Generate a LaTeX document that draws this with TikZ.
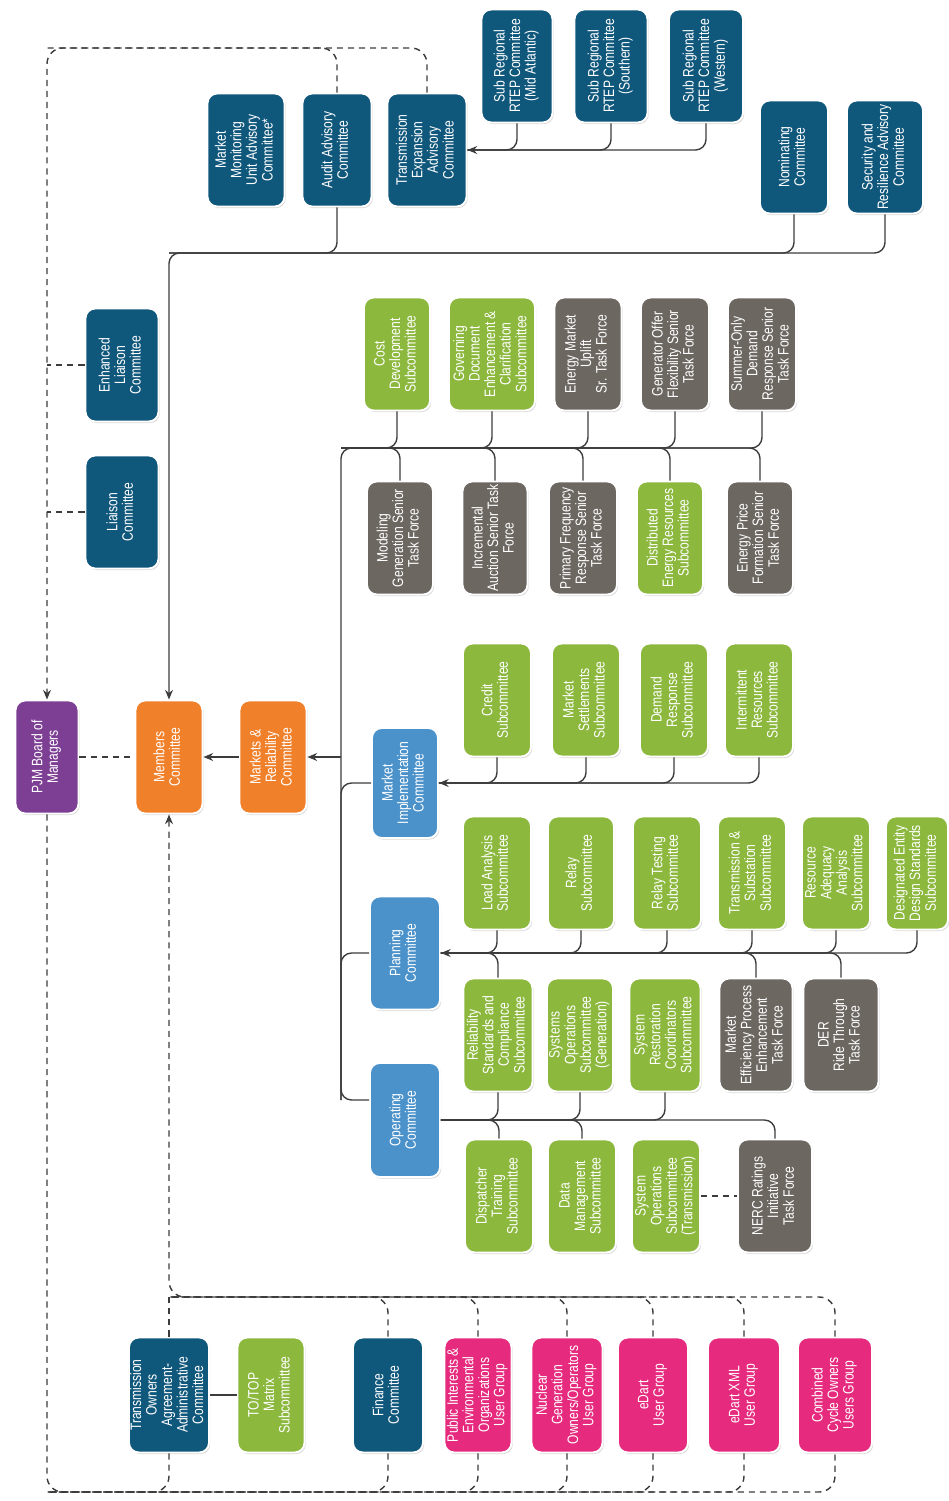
\documentclass[tikz,border=0pt]{standalone}
\usepackage{fontspec}
\usepackage{graphicx}
\usetikzlibrary{arrows.meta, shadows}
\newfontfamily\orgfont[FakeStretch=0.8]{Liberation Sans}
\definecolor{pjmnavy}{HTML}{10577C}
\definecolor{pjmleaf}{HTML}{8CB83E}
\definecolor{pjmash}{HTML}{6D6762}
\definecolor{pjmamber}{HTML}{F0802A}
\definecolor{pjmsky}{HTML}{4B92CB}
\definecolor{pjmplum}{HTML}{7D3F94}
\definecolor{pjmrose}{HTML}{E62A7E}
\definecolor{linkgray}{HTML}{3C3C3C}
\newcommand{\vlab}[1]{\rotatebox{90}{\begin{tabular}{@{}c@{}}#1\end{tabular}}}
\tikzset{
  orgbox/.style  = {rectangle, rounded corners=5.5pt, draw=white, line width=1.1pt,
                    minimum width=1.36cm, minimum height=2.26cm, inner sep=0pt,
                    text=white, font=\orgfont\fontsize{8.6}{8.8}\selectfont,
                    drop shadow={shadow xshift=0.7pt, shadow yshift=-0.9pt, opacity=0.3}},
  navyb/.style   = {orgbox, fill=pjmnavy},
  leafb/.style   = {orgbox, fill=pjmleaf},
  ashb/.style    = {orgbox, fill=pjmash},
  amberb/.style  = {orgbox, fill=pjmamber},
  skyb/.style    = {orgbox, fill=pjmsky},
  plumb/.style   = {orgbox, fill=pjmplum},
  roseb/.style   = {orgbox, fill=pjmrose},
  feed/.style    = {draw=linkgray, line width=0.8pt, rounded corners=6pt},
  dotlink/.style = {feed, rounded corners=9pt, dash pattern=on 3.5pt off 2.8pt},
  tip/.style     = {-{Stealth[length=5.5pt, width=4.5pt]}},
}

\begin{document}
\begin{tikzpicture}[x=0.02cm, y=-0.02cm, line join=round]
  \useasboundingbox (0,0) rectangle (948,1501);
  % advisory committees
  \node[navyb, minimum width=1.54cm] (mmu) at (246,150) {\vlab{Market\\Monitoring\\Unit Advisory\\Committee*}};
  \node[navyb, minimum width=1.38cm] (aud) at (337,150) {\vlab{Audit Advisory\\Committee}};
  \node[navyb, minimum width=1.58cm] (tea) at (427,150) {\vlab{Transmission\\Expansion\\Advisory\\Committee}};
  \node[navyb, minimum width=1.42cm] (srm) at (517,66) {\vlab{Sub Regional\\RTEP Committee\\(Mid Atlantic)}};
  \node[navyb, minimum width=1.46cm] (srs) at (611,66) {\vlab{Sub Regional\\RTEP Committee\\(Southern)}};
  \node[navyb, minimum width=1.48cm] (srw) at (706,66) {\vlab{Sub Regional\\RTEP Committee\\(Western)}};
  \node[navyb] (nom) at (794,157) {\vlab{Nominating\\Committee}};
  \node[navyb, minimum width=1.52cm] (sra) at (885,157) {\vlab{Security and\\Resilience Advisory\\Committee}};
  \node[navyb, minimum width=1.46cm] (elc) at (122,365) {\vlab{Enhanced\\Liaison\\Committee}};
  \node[navyb, minimum width=1.46cm] (lia) at (122,512) {\vlab{Liaison\\Committee}};
  % senior standing committees
  \node[plumb, minimum width=1.26cm] (pjm) at (47,757) {\vlab{PJM Board of\\Managers}};
  \node[amberb, minimum width=1.34cm] (mc) at (169,757) {\vlab{Members\\Committee}};
  \node[amberb, minimum width=1.34cm] (mrc) at (273,757) {\vlab{Markets \&\\Reliability\\Committee}};
  \node[skyb, minimum width=1.32cm, minimum height=2.2cm] (mic) at (405,783) {\vlab{Market\\Implementation\\Committee}};
  \node[skyb, minimum width=1.4cm] (plc) at (405,953) {\vlab{Planning\\Committee}};
  \node[skyb, minimum width=1.4cm, minimum height=2.28cm] (opc) at (405,1120) {\vlab{Operating\\Committee}};
  % markets and reliability groups
  \node[leafb, minimum width=1.32cm] (cds) at (397,354) {\vlab{Cost\\Development\\Subcommittee}};
  \node[leafb, minimum width=1.72cm] (gde) at (492,354) {\vlab{Governing\\Document\\Enhancement \&\\Clarification\\Subcommittee}};
  \node[ashb, minimum width=1.34cm] (emu) at (588,354) {\vlab{Energy Market\\Uplift\\Sr. Task Force}};
  \node[ashb] (gof) at (675,354) {\vlab{Generator Offer\\Flexibility Senior\\Task Force}};
  \node[ashb] (sod) at (762,354) {\vlab{Summer-Only\\Demand\\Response Senior\\Task Force}};
  \node[ashb, minimum width=1.32cm] (mgs) at (400,538) {\vlab{Modeling\\Generation Senior\\Task Force}};
  \node[ashb, minimum width=1.3cm] (ias) at (495,538) {\vlab{Incremental\\Auction Senior Task\\Force}};
  \node[ashb] (pfr) at (583,538) {\vlab{Primary Frequency\\Response Senior\\Task Force}};
  \node[leafb, minimum width=1.32cm] (ers) at (670,538) {\vlab{Distributed\\Energy Resources\\Subcommittee}};
  \node[ashb, minimum width=1.32cm] (epf) at (760,538) {\vlab{Energy Price\\Formation Senior\\Task Force}};
  % market implementation groups
  \node[leafb] (crs) at (497,700) {\vlab{Credit\\Subcommittee}};
  \node[leafb] (mss) at (586,700) {\vlab{Market\\Settlements\\Subcommittee}};
  \node[leafb] (drs) at (674,700) {\vlab{Demand\\Response\\Subcommittee}};
  \node[leafb] (irs) at (759,700) {\vlab{Intermittent\\Resources\\Subcommittee}};
  % planning groups
  \node[leafb] (las) at (497,873) {\vlab{Load Analysis\\Subcommittee}};
  \node[leafb, minimum width=1.32cm] (rls) at (581,873) {\vlab{Relay\\Subcommittee}};
  \node[leafb] (rts) at (667,873) {\vlab{Relay Testing\\Subcommittee}};
  \node[leafb] (tss) at (752,873) {\vlab{Transmission \&\\Substation\\Subcommittee}};
  \node[leafb] (raa) at (836,873) {\vlab{Resource\\Adequacy\\Analysis\\Subcommittee}};
  \node[leafb, minimum width=1.24cm] (des) at (917,873) {\vlab{Designated Entity\\Design Standards\\Subcommittee}};
  \node[leafb, minimum width=1.38cm] (rsc) at (498,1035) {\vlab{Reliability\\Standards and\\Compliance\\Subcommittee}};
  \node[leafb, minimum width=1.32cm] (sog) at (580,1035) {\vlab{Systems\\Operations\\Subcommittee\\(Generation)}};
  \node[leafb, minimum width=1.42cm] (src) at (665,1035) {\vlab{System\\Restoration\\Coordinators\\Subcommittee}};
  \node[ashb, minimum width=1.46cm] (mep) at (756,1035) {\vlab{Market\\Efficiency Process\\Enhancement\\Task Force}};
  \node[ashb, minimum width=1.5cm] (drt) at (841,1035) {\vlab{DER\\Ride Through\\Task Force}};
  % operating groups
  \node[leafb] (dts) at (499,1196) {\vlab{Dispatcher\\Training\\Subcommittee}};
  \node[leafb] (dms) at (582,1196) {\vlab{Data\\Management\\Subcommittee}};
  \node[leafb] (sot) at (666,1196) {\vlab{System\\Operations\\Subcommittee\\(Transmission)}};
  \node[ashb, minimum width=1.48cm] (nrt) at (775,1196) {\vlab{NERC Ratings\\Initiative\\Task Force}};
  % other committees and user groups
  \node[navyb, minimum width=1.6cm, minimum height=2.3cm] (toa) at (169,1395) {\vlab{Transmission\\Owners\\Agreement-\\Administrative\\Committee}};
  \node[leafb, minimum width=1.34cm, minimum height=2.3cm] (ttm) at (271,1395) {\vlab{TO/TOP\\Matrix\\Subcommittee}};
  \node[navyb, minimum width=1.4cm, minimum height=2.3cm] (fin) at (388,1395) {\vlab{Finance\\Committee}};
  \node[roseb, minimum width=1.34cm, minimum height=2.3cm] (pie) at (478,1395) {\vlab{Public Interests \&\\Environmental\\Organizations\\User Group}};
  \node[roseb, minimum width=1.42cm, minimum height=2.3cm] (ngo) at (567,1395) {\vlab{Nuclear\\Generation\\Owners/Operators\\User Group}};
  \node[roseb, minimum width=1.4cm, minimum height=2.3cm] (edu) at (653,1395) {\vlab{eDart\\User Group}};
  \node[roseb, minimum width=1.44cm, minimum height=2.3cm] (exu) at (744,1395) {\vlab{eDart XML\\User Group}};
  \node[roseb, minimum width=1.48cm, minimum height=2.3cm] (ccu) at (835,1395) {\vlab{Combined\\Cycle Owners\\Users Group}};

  \coordinate (ulc) at (47,48);
  \coordinate (topbus) at (169,253);
  \coordinate (mrbus) at (341,448);
  \coordinate (vb) at (341,1100);
  \coordinate (gbus) at (169,1297);
  \coordinate (lbus) at (47,1492);

  \draw[dotlink, tip] (tea.north) |- (ulc) -- (pjm.north);
  \draw[dotlink] (aud.north) |- (ulc);
  \foreach \bx in {elc,lia} \draw[dotlink] (\bx.west) -- (\bx.west -| ulc);
  \draw[dotlink] (pjm.east) -- (mc.west);
  \draw[feed, tip] (sra.south) |- (topbus) -- (mc.north);
  \foreach \bx in {nom,aud} \draw[feed] (\bx.south) |- (topbus);
  \draw[feed, tip] (srw.south) |- (tea.east);
  \foreach \bx in {srm,srs} \draw[feed] (\bx.south) |- (tea.east);
  \draw[feed, tip] (mrc.west) -- (mc.east);
  \draw[feed, tip] (vb |- mrc.east) -- (mrc.east);

  \draw[feed] (sod.south) |- (mrbus) |- ([yshift=0.4cm]opc.west);
  \foreach \bx in {cds,gde,emu,gof} \draw[feed] (\bx.south) |- (mrbus);
  \foreach \bx in {mgs,ias,pfr,ers,epf} \draw[feed] (\bx.north) |- (mrbus);
  \foreach \bx in {mic,plc} \draw[feed] (\bx.west) -| (vb);

  \draw[feed, tip] (irs.south) |- (mic.east);
  \foreach \bx in {crs,mss,drs} \draw[feed] (\bx.south) |- (mic.east);
  \draw[feed, tip] (des.south) |- (plc.east);
  \foreach \bx in {las,rls,rts,tss,raa} \draw[feed] (\bx.south) |- (plc.east);
  \foreach \bx in {rsc,mep,drt} \draw[feed] (\bx.north) |- (plc.east);
  \draw[feed] (opc.east) -| (nrt.north);
  \foreach \bx in {rsc,sog,src} \draw[feed] (\bx.south) |- (opc.east);
  \foreach \bx in {dts,dms} \draw[feed] (\bx.north) |- (opc.east);
  \draw[dotlink] (sot.east) -- (nrt.west);

  \draw[feed] (toa.east) -- (ttm.west);
  \draw[dotlink, tip] (ccu.north) |- (gbus) -- (mc.south);
  \draw[dotlink] (toa.north) -- (gbus);
  \foreach \bx in {fin,pie,ngo,edu,exu} \draw[dotlink] (\bx.north) |- (gbus);
  \draw[dotlink] (pjm.south) -- (lbus) -| (ccu.south);
  \foreach \bx in {toa,fin,pie,ngo,edu,exu} \draw[dotlink] (\bx.south) |- (lbus);
\end{tikzpicture}
\end{document}
